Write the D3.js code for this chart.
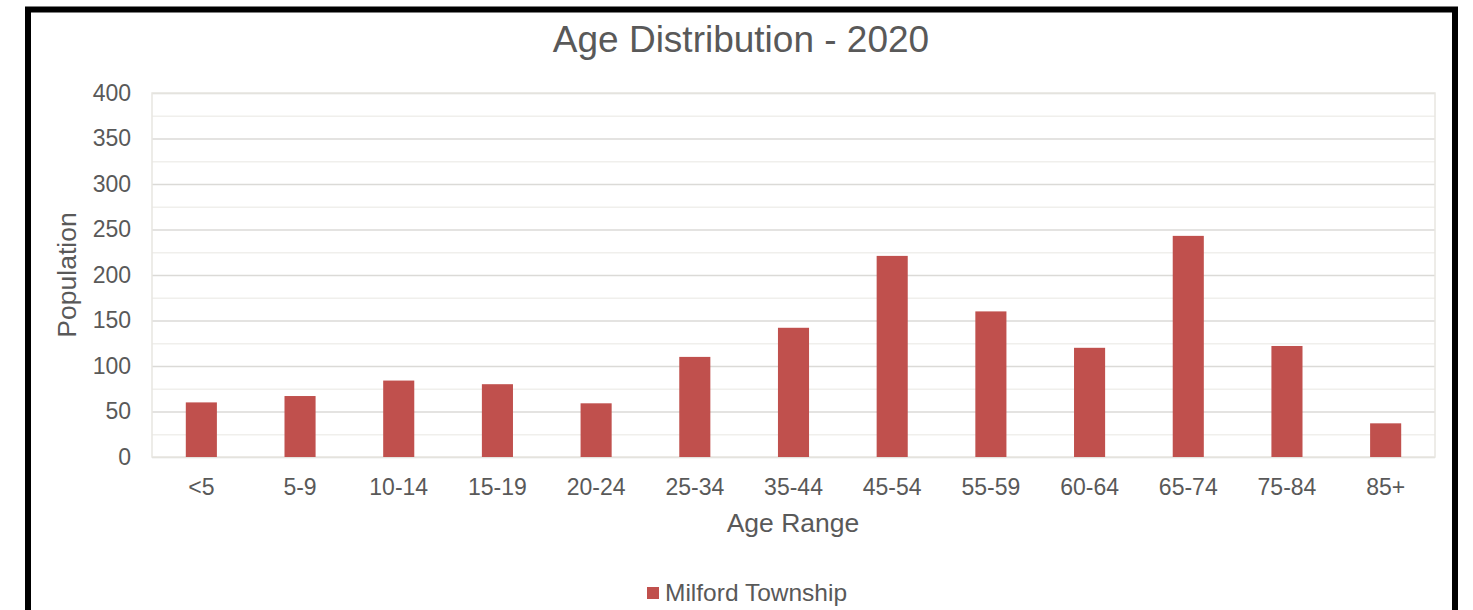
<!DOCTYPE html>
<html>
<head>
<meta charset="utf-8">
<script src="https://cdn.jsdelivr.net/npm/d3@7"></script>
<style>
  html, body { margin: 0; padding: 0; background: #fff; }
  svg { display: block; }
  text { font-family: "Liberation Sans", Arial, sans-serif; fill: #595959; }
</style>
</head>
<body>
<svg id="chart" width="1473" height="610"></svg>
<script>
// Age groups and 2020 population counts
const categories = ["<5", "5-9", "10-14", "15-19", "20-24", "25-34", "35-44", "45-54", "55-59", "60-64", "65-74", "75-84", "85+"];
const population = [60, 67, 84, 80, 59, 110, 142, 221, 160, 120, 243, 122, 37];
const yTicks = [0, 50, 100, 150, 200, 250, 300, 350, 400];
const yMinorTicks = [25, 75, 125, 175, 225, 275, 325, 375];
const seriesName = "Milford Township";
const chartTitle = "Age Distribution - 2020";
const xTitle = "Age Range";
const yTitle = "Population";

const svg = d3.select("#chart");
const barColor = "#c0504d";
const fontFamily = "Liberation Sans, Arial, sans-serif";

// outer frame
svg.append("rect")
  .attr("x", 28).attr("y", 9.5)
  .attr("width", 1427).attr("height", 640)
  .attr("fill", "#fff")
  .attr("stroke", "#000").attr("stroke-width", 6);

const plot = { left: 152, right: 1435, top: 93, bottom: 457 };

const x = d3.scaleBand()
  .domain(categories)
  .range([plot.left, plot.right])
  .paddingInner(0.685).paddingOuter(0.3425);

const y = d3.scaleLinear()
  .domain([0, 400])
  .range([plot.bottom, plot.top]);

// minor gridlines
svg.append("g").selectAll("line").data(yMinorTicks).join("line")
  .attr("x1", plot.left).attr("x2", plot.right)
  .attr("y1", d => y(d) + 0.5).attr("y2", d => y(d) + 0.5)
  .attr("stroke", "#f0efec").attr("stroke-width", 1.5);

// major gridlines
svg.append("g").selectAll("line").data(yTicks).join("line")
  .attr("x1", plot.left).attr("x2", plot.right)
  .attr("y1", d => y(d) + 0.5).attr("y2", d => y(d) + 0.5)
  .attr("stroke", "#dbdad7").attr("stroke-width", 1.5);

// plot area frame
svg.append("rect")
  .attr("x", plot.left).attr("y", plot.top)
  .attr("width", plot.right - plot.left).attr("height", plot.bottom - plot.top)
  .attr("fill", "none").attr("stroke", "#e8e6e1").attr("stroke-width", 1.5);

// bars
svg.append("g").selectAll("rect").data(categories).join("rect")
  .attr("x", d => x(d))
  .attr("width", x.bandwidth())
  .attr("y", (d, i) => y(population[i]))
  .attr("height", (d, i) => y(0) - y(population[i]))
  .attr("fill", barColor);

// y axis
const yAxis = d3.axisLeft(y).tickValues(yTicks).tickSize(0).tickPadding(21);
const gy = svg.append("g").attr("transform", `translate(${plot.left},0)`).call(yAxis);
gy.select(".domain").remove();
gy.selectAll("text")
  .attr("font-size", 23)
  .attr("font-family", fontFamily)
  .attr("fill", "#595959");

// x axis
const xAxis = d3.axisBottom(x).tickSize(0).tickPadding(22);
const gx = svg.append("g").attr("transform", `translate(0,${plot.bottom})`).call(xAxis);
gx.select(".domain").remove();
gx.selectAll("text")
  .attr("font-size", 23)
  .attr("font-family", fontFamily)
  .attr("fill", "#595959");

// title
svg.append("text")
  .attr("x", 741).attr("y", 52)
  .attr("text-anchor", "middle")
  .attr("font-size", 37)
  .text(chartTitle);

// axis titles
svg.append("text")
  .attr("x", 793).attr("y", 532)
  .attr("text-anchor", "middle")
  .attr("font-size", 26.5)
  .text(xTitle);

svg.append("text")
  .attr("transform", "translate(76,275) rotate(-90)")
  .attr("text-anchor", "middle")
  .attr("font-size", 26.5)
  .text(yTitle);

// legend
const legend = svg.append("g").attr("transform", "translate(647,587)");
legend.append("rect").attr("width", 12).attr("height", 12).attr("fill", barColor);
legend.append("text").attr("x", 18).attr("y", 13.5).attr("font-size", 24.5).text(seriesName);
</script>
</body>
</html>
